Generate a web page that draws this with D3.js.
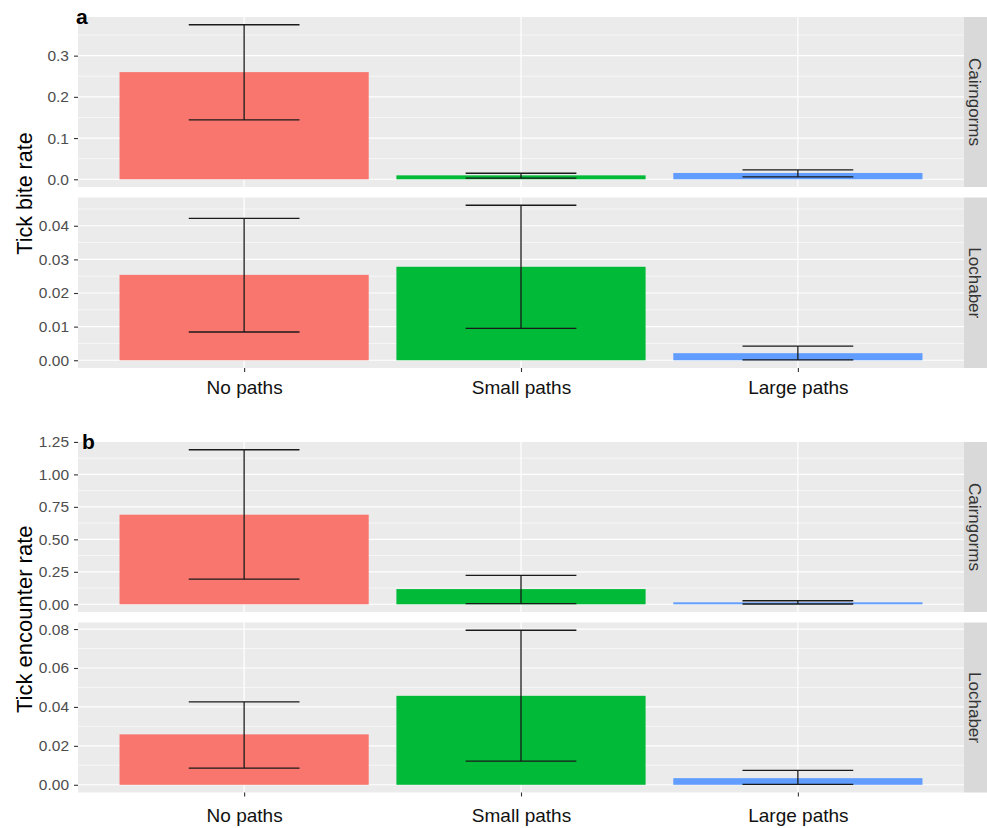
<!DOCTYPE html>
<html><head><meta charset="utf-8">
<script src="https://cdn.jsdelivr.net/npm/d3@7"></script>
<style>body{margin:0;background:#fff;} svg{display:block;font-family:"Liberation Sans",Arial,sans-serif;}</style>
</head><body>
<svg id="chart" width="987" height="828"></svg>
<script>
// ---- data ----
const categories = ["No paths", "Small paths", "Large paths"];
const sites = ["Cairngorms", "Lochaber"];
const colors = ["#F8766D", "#00BA38", "#619CFF"];

const biteCairngorms     = [0.260, 0.0095, 0.0153];
const biteCairngormsLow  = [0.144, 0.003, 0.0056];
const biteCairngormsHigh = [0.375, 0.0146, 0.0226];
const biteLochaber       = [0.0254, 0.0278, 0.0021];
const biteLochaberLow    = [0.0084, 0.0095, 0.0001];
const biteLochaberHigh   = [0.0422, 0.0461, 0.0042];

const encCairngorms      = [0.690, 0.117, 0.015];
const encCairngormsLow   = [0.193, 0.005, 0.002];
const encCairngormsHigh  = [1.19, 0.222, 0.027];
const encLochaber        = [0.0259, 0.0457, 0.0034];
const encLochaberLow     = [0.0086, 0.0121, 0.0002];
const encLochaberHigh    = [0.0426, 0.0794, 0.0074];

const biteCairngormsTicks = [0, 0.1, 0.2, 0.3];
const biteLochaberTicks   = [0, 0.01, 0.02, 0.03, 0.04];
const encCairngormsTicks  = [0, 0.25, 0.5, 0.75, 1.0, 1.25];
const encLochaberTicks    = [0, 0.02, 0.04, 0.06, 0.08];

const plotTags = ["a", "b"];
const yTitles = ["Tick bite rate", "Tick encounter rate"];

// ---- layout ----
const svg = d3.select("#chart");
const left = 78, right = 964, stripW = 30;
const panels = [
  {y0: 17,    y1: 187,   v: biteCairngorms, lo: biteCairngormsLow, hi: biteCairngormsHigh, ticks: biteCairngormsTicks, fmt: ".1f", site: sites[0]},
  {y0: 197.5, y1: 368,   v: biteLochaber,   lo: biteLochaberLow,   hi: biteLochaberHigh,   ticks: biteLochaberTicks,   fmt: ".2f", site: sites[1]},
  {y0: 442,   y1: 612,   v: encCairngorms,  lo: encCairngormsLow,  hi: encCairngormsHigh,  ticks: encCairngormsTicks,  fmt: ".2f", site: sites[0]},
  {y0: 622.5, y1: 792.5, v: encLochaber,    lo: encLochaberLow,    hi: encLochaberHigh,    ticks: encLochaberTicks,    fmt: ".2f", site: sites[1]}
];

const x = d3.scalePoint().domain(categories).range([left, right]).padding(0.6);
const step = x.step();

panels.forEach((p, pi) => {
  const M = d3.max(p.hi);
  const y = d3.scaleLinear().domain([-0.05 * M, 1.05 * M]).range([p.y1, p.y0]);
  const g = svg.append("g");
  // background
  g.append("rect").attr("x", left).attr("y", p.y0).attr("width", right - left).attr("height", p.y1 - p.y0).attr("fill", "#EBEBEB");
  // minor grid
  const s = p.ticks[1] - p.ticks[0];
  const dom = y.domain();
  const minors = [];
  for (let k = Math.floor(dom[0] / s) - 1; k <= Math.ceil(dom[1] / s); k++) {
    const m = (k + 0.5) * s;
    if (m >= dom[0] && m <= dom[1]) minors.push(m);
  }
  g.selectAll(".minor").data(minors).join("line")
    .attr("x1", left).attr("x2", right).attr("y1", d => y(d)).attr("y2", d => y(d))
    .attr("stroke", "#fff").attr("stroke-width", 0.6);
  const majors = p.ticks.filter(t => t >= dom[0] && t <= dom[1]);
  g.selectAll(".major").data(majors).join("line")
    .attr("x1", left).attr("x2", right).attr("y1", d => y(d)).attr("y2", d => y(d))
    .attr("stroke", "#fff").attr("stroke-width", 1.2);
  g.selectAll(".vmajor").data(categories).join("line")
    .attr("x1", d => x(d)).attr("x2", d => x(d)).attr("y1", p.y0).attr("y2", p.y1)
    .attr("stroke", "#fff").attr("stroke-width", 1.2);
  // bars
  g.selectAll(".bar").data(categories).join("rect")
    .attr("x", d => x(d) - step * 0.45).attr("width", step * 0.9)
    .attr("y", (d, i) => y(p.v[i])).attr("height", (d, i) => y(0) - y(p.v[i]))
    .attr("fill", (d, i) => colors[i]);
  // error bars
  const eb = g.selectAll(".eb").data(categories).join("g").attr("stroke", "#1a1a1a").attr("stroke-width", 1.3).attr("fill", "none");
  eb.append("line").attr("x1", d => x(d)).attr("x2", d => x(d)).attr("y1", (d, i) => y(p.lo[i])).attr("y2", (d, i) => y(p.hi[i]));
  eb.append("line").attr("x1", d => x(d) - step * 0.2).attr("x2", d => x(d) + step * 0.2).attr("y1", (d, i) => y(p.hi[i])).attr("y2", (d, i) => y(p.hi[i]));
  eb.append("line").attr("x1", d => x(d) - step * 0.2).attr("x2", d => x(d) + step * 0.2).attr("y1", (d, i) => y(p.lo[i])).attr("y2", (d, i) => y(p.lo[i]));
  // y axis
  const ya = g.append("g").attr("transform", `translate(${left},0)`)
    .call(d3.axisLeft(y).tickValues(p.ticks).tickFormat(d3.format(p.fmt)).tickSize(4).tickPadding(5));
  ya.select(".domain").remove();
  ya.selectAll(".tick line").attr("stroke", "#333").attr("stroke-width", 1.1);
  ya.selectAll(".tick text").attr("fill", "#4D4D4D").style("font-size", "15.5px").style("font-family", "'Liberation Sans',Arial,sans-serif");
  // strip
  g.append("rect").attr("x", right).attr("y", p.y0).attr("width", stripW).attr("height", p.y1 - p.y0).attr("fill", "#D9D9D9");
  g.append("text").attr("transform", `translate(${right + 4.5},${(p.y0 + p.y1) / 2}) rotate(90)`)
    .attr("text-anchor", "middle").attr("fill", "#333").style("font-size", "17px").text(p.site);
});

// x axes (bottom of each plot)
[[panels[1], 9], [panels[3], 12]].forEach(([p, pad]) => {
  const xa = svg.append("g").attr("transform", `translate(0,${p.y1})`)
    .call(d3.axisBottom(x).tickSize(4).tickPadding(pad));
  xa.select(".domain").remove();
  xa.selectAll(".tick line").attr("stroke", "#333").attr("stroke-width", 1.1);
  xa.selectAll(".tick text").attr("fill", "#111").style("font-size", "19px").style("font-family", "'Liberation Sans',Arial,sans-serif");
});

// y titles
[[panels[0], panels[1], 21.5], [panels[2], panels[3], 22]].forEach((pp, k) => {
  const cy = (pp[0].y0 + pp[1].y1) / 2 + (k === 0 ? 1 : 2);
  svg.append("text").attr("transform", `translate(31.5,${cy}) rotate(-90)`)
    .attr("text-anchor", "middle").attr("fill", "#000").style("font-size", pp[2] + "px").text(yTitles[k]);
});

// tags
svg.append("text").attr("x", 76).attr("y", 24).style("font-size", "21px").style("font-weight", "bold").text(plotTags[0]);
svg.append("text").attr("x", 82).attr("y", 449).style("font-size", "21px").style("font-weight", "bold").text(plotTags[1]);
</script>
</body></html>
